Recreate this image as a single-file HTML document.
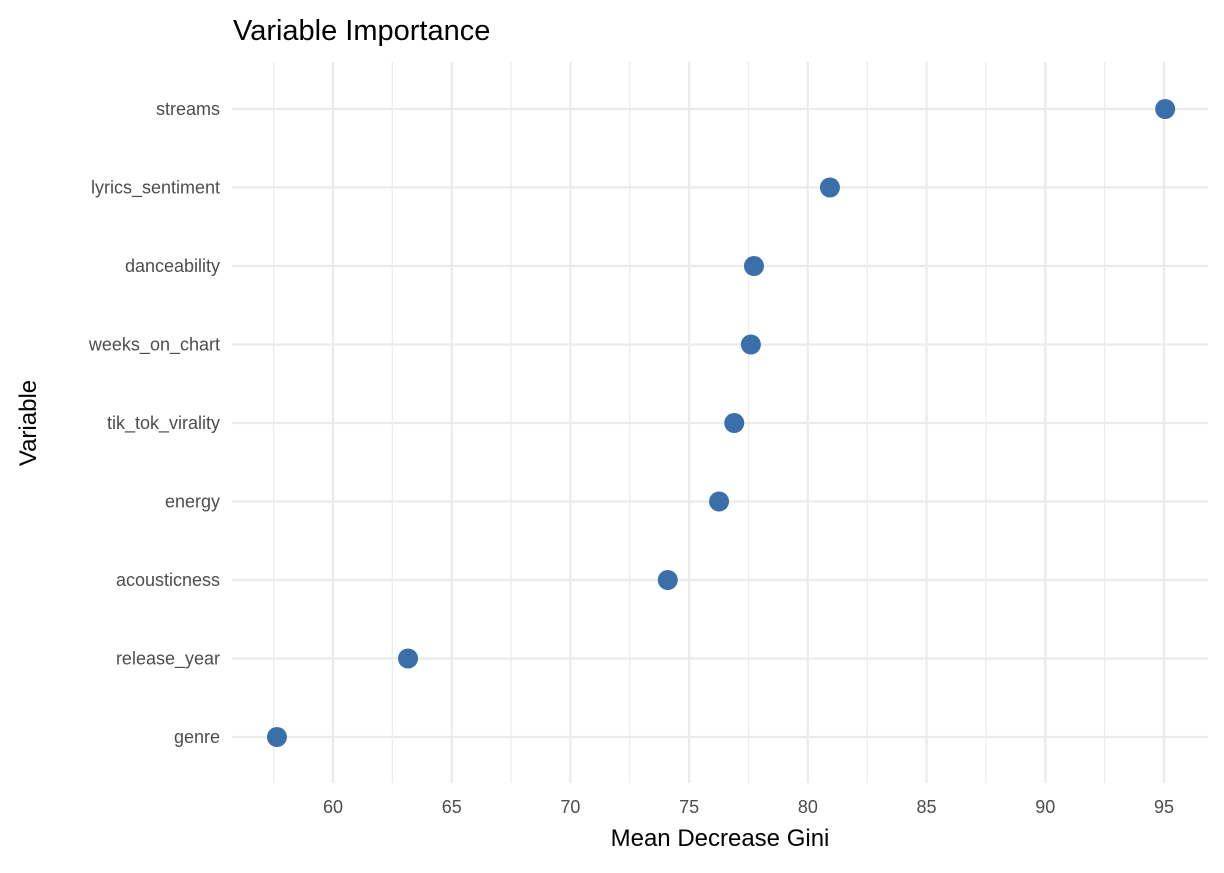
<!DOCTYPE html>
<html><head><meta charset="utf-8"><style>
body{margin:0;background:#fff;font-family:"Liberation Sans",Arial,sans-serif}
</style></head><body>
<svg id="chart" width="1224" height="868" xmlns="http://www.w3.org/2000/svg" font-family="Liberation Sans, Arial, sans-serif">
<text x="233" y="40" font-size="29" fill="#000">Variable Importance</text>
<g id="grid"></g>
<g id="ylabels"></g>
<g id="xlabels"></g>
<g id="points"></g>
<text x="720" y="846" font-size="24" text-anchor="middle" fill="#000">Mean Decrease Gini</text>
<text transform="translate(36,423) rotate(-90)" font-size="24" text-anchor="middle" fill="#000">Variable</text>
</svg>
<script>
const categories=["streams","lyrics_sentiment","danceability","weeks_on_chart","tik_tok_virality","energy","acousticness","release_year","genre"];
const values=[95.05,80.93,77.73,77.6,76.9,76.26,74.1,63.16,57.64];
const xTicks=[60,65,70,75,80,85,90,95];
const ns="http://www.w3.org/2000/svg";
const x=v=>333+(v-60)*(1164-333)/35;
const y=i=>109+i*78.5;
const L=232,R=1208,T=62,B=783;
function mk(t,a,p){const e=document.createElementNS(ns,t);for(const k in a)e.setAttribute(k,a[k]);document.getElementById(p).appendChild(e);return e;}
for(let v=57.5;v<=97.5;v+=5){if(x(v)>R)continue;const e=mk('line',{x1:x(v),x2:x(v),y1:T,y2:B,stroke:'#ebebeb','stroke-width':1.2},'grid');

}
xTicks.forEach(v=>{const e=mk('line',{x1:x(v),x2:x(v),y1:T,y2:B,stroke:'#ebebeb','stroke-width':2.2},'grid');


const t=mk('text',{x:x(v),y:813,'font-size':18,'text-anchor':'middle',fill:'#4d4d4d'},'xlabels');t.textContent=v;

});
categories.forEach((c,i)=>{const e=mk('line',{x1:L,x2:R,y1:y(i),y2:y(i),stroke:'#ebebeb','stroke-width':2.2},'grid');


const t=mk('text',{x:220,y:y(i)+6,'font-size':18,'text-anchor':'end',fill:'#4d4d4d'},'ylabels');t.textContent=c;


const p=mk('circle',{cx:x(values[i]),cy:y(i),r:10,fill:'#3a6faa'},'points');

});
</script>
</body></html>
